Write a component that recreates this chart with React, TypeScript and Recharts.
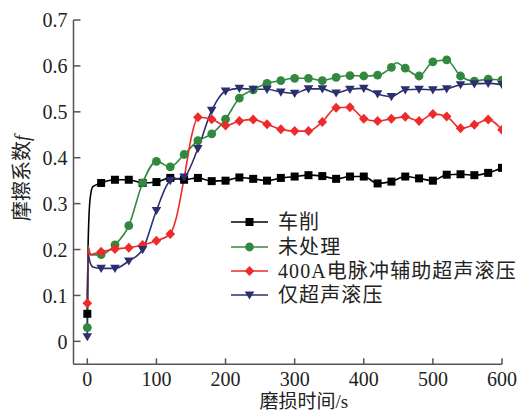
import React from "react";
import { LineChart, Line, XAxis, YAxis, Legend } from "recharts";

// marker points every 20 s
const times = [0, 20, 40, 60, 80, 100, 120, 140, 160, 180, 200, 220, 240, 260, 280, 300, 320, 340, 360, 380, 400, 420, 440, 460, 480, 500, 520, 540, 560, 580, 600];

const turned = [0.06, 0.345, 0.352, 0.352, 0.345, 0.347, 0.356, 0.352, 0.356, 0.349, 0.35, 0.357, 0.354, 0.35, 0.356, 0.359, 0.362, 0.36, 0.354, 0.359, 0.359, 0.344, 0.348, 0.359, 0.355, 0.35, 0.363, 0.364, 0.362, 0.367, 0.378];
const untreated = [0.03, 0.189, 0.21, 0.252, 0.345, 0.392, 0.38, 0.407, 0.437, 0.452, 0.484, 0.53, 0.548, 0.562, 0.568, 0.573, 0.573, 0.568, 0.575, 0.579, 0.578, 0.58, 0.597, 0.595, 0.578, 0.609, 0.613, 0.578, 0.567, 0.571, 0.569];
const pulse400A = [0.083, 0.195, 0.201, 0.204, 0.21, 0.219, 0.234, 0.355, 0.488, 0.484, 0.47, 0.48, 0.483, 0.473, 0.462, 0.458, 0.458, 0.478, 0.509, 0.51, 0.485, 0.48, 0.485, 0.489, 0.48, 0.495, 0.49, 0.464, 0.472, 0.483, 0.461];
const ultrasonic = [0.01, 0.159, 0.159, 0.175, 0.2, 0.285, 0.35, 0.358, 0.42, 0.503, 0.545, 0.551, 0.549, 0.549, 0.543, 0.54, 0.55, 0.55, 0.541, 0.549, 0.551, 0.539, 0.533, 0.548, 0.549, 0.548, 0.55, 0.559, 0.561, 0.562, 0.559];

// extra line points without markers (start-up jump, red rise, green peak)
const extraTimes = [1, 4, 8, 128, 152, 447];
const turnedExtra = [0.2, 0.31, 0.337, null, null, null];
const untreatedExtra = [0.207, 0.192, 0.188, null, null, 0.607];
const pulseExtra = [0.205, 0.188, 0.19, 0.265, 0.455, null];
const ultrasonicExtra = [0.19, 0.172, 0.162, null, null, null];

const xTicks = [0, 100, 200, 300, 400, 500, 600];
const yTicks = [0, 0.1, 0.2, 0.3, 0.4, 0.5, 0.6, 0.7];

const series = [
  { key: "turned", name: "车削", color: "#000000", shape: "square", values: turned, extra: turnedExtra, skip: [] as number[] },
  { key: "untreated", name: "未处理", color: "#33883f", shape: "circle", values: untreated, extra: untreatedExtra, skip: [] as number[] },
  { key: "pulse", name: "400A电脉冲辅助超声滚压", color: "#ee2a2a", shape: "diamond", values: pulse400A, extra: pulseExtra, skip: [140] },
  { key: "ultra", name: "仅超声滚压", color: "#2c2f6e", shape: "triangle", values: ultrasonic, extra: ultrasonicExtra, skip: [] as number[] },
];

const allTimes = [...times, ...extraTimes].sort((a, b) => a - b);
const data = allTimes.map((t) => {
  const row: Record<string, number | null> = { t };
  series.forEach((s) => {
    const i = times.indexOf(t);
    const j = extraTimes.indexOf(t);
    row[s.key] = i >= 0 ? s.values[i] : j >= 0 ? s.extra[j] : null;
  });
  return row;
});

const FONT = "'Liberation Serif', 'Times New Roman', 'Noto Sans CJK SC', serif";
const AXIS = "#555555";

function Marker({ shape, cx, cy, color }: { shape: string; cx: number; cy: number; color: string }) {
  if (shape === "square") return <rect x={cx - 4} y={cy - 4} width={8} height={8} fill={color} />;
  if (shape === "circle") return <circle cx={cx} cy={cy} r={4.4} fill={color} />;
  if (shape === "diamond")
    return <polygon points={`${cx},${cy - 5} ${cx + 4.8},${cy} ${cx},${cy + 5} ${cx - 4.8},${cy}`} fill={color} />;
  return <polygon points={`${cx - 4.8},${cy - 3.6} ${cx + 4.8},${cy - 3.6} ${cx},${cy + 4.6}`} fill={color} />;
}

function makeDot(s: (typeof series)[number]) {
  return (props: any) => {
    const { cx, cy, payload, index } = props;
    if (cx == null || cy == null || payload[s.key] == null || payload.t % 20 !== 0 || s.skip.includes(payload.t)) {
      return <g key={`d-${s.key}-${index}`} />;
    }
    return <Marker key={`d-${s.key}-${index}`} shape={s.shape} cx={cx} cy={cy} color={s.color} />;
  };
}

function YTick(props: any) {
  const { x, y, payload } = props;
  const v = payload.value;
  return (
    <g>
      <line x1={x + 6} x2={x + 13} y1={y} y2={y} stroke={AXIS} strokeWidth={1.5} />
      <text x={x} y={y} dy="0.36em" textAnchor="end" fontSize={20} fontFamily={FONT} fill="#222">
        {v === 0 ? "0" : v.toFixed(1)}
      </text>
    </g>
  );
}

function XTick(props: any) {
  const { x, y, payload } = props;
  return (
    <g>
      <line x1={x} x2={x} y1={y - 8} y2={y - 14} stroke={AXIS} strokeWidth={1.5} />
      <text x={x} y={y} dy="0.68em" textAnchor="middle" fontSize={20} fontFamily={FONT} fill="#222">
        {payload.value}
      </text>
    </g>
  );
}

function XTitle(props: any) {
  const vb = props.viewBox;
  return (
    <text x={vb.x + vb.width / 2 + 16} y={vb.y + 44} textAnchor="middle" fontSize={19} fontFamily={FONT} fill="#222">
      磨损时间/s
    </text>
  );
}

function YTitle(props: any) {
  const vb = props.viewBox;
  const cx = 22;
  const cy = vb.y + vb.height / 2 - 14;
  return (
    <text x={cx} y={cy} transform={`rotate(-90 ${cx} ${cy})`} textAnchor="middle" dominantBaseline="central" fontSize={20} fontFamily={FONT} fill="#222">
      摩擦系数<tspan fontStyle="italic">f</tspan>
    </text>
  );
}

function LegendBox() {
  return (
    <div style={{ fontFamily: FONT, fontSize: 20, color: "#222" }}>
      {series.map((s) => (
        <div key={s.key} style={{ display: "flex", alignItems: "center", height: 24.4 }}>
          <svg width={40} height={14} style={{ flex: "none" }}>
            <line x1={1} x2={38} y1={7} y2={7} stroke={s.color} strokeWidth={1.6} />
            <Marker shape={s.shape} cx={19.5} cy={7} color={s.color} />
          </svg>
          <span style={{ marginLeft: 8, whiteSpace: "nowrap", lineHeight: "24px", letterSpacing: 1.1 }}>{s.name}</span>
        </div>
      ))}
    </div>
  );
}

export default function App() {
  return (
    <div style={{ position: "absolute", left: 0, top: 0, width: 520, height: 417, background: "#fff" }}>
      <LineChart width={520} height={417} data={data} margin={{ top: 20, right: 18, bottom: 22.7, left: 13.5 }}>
        <XAxis
          dataKey="t"
          type="number"
          domain={[-20, 600]}
          ticks={xTicks}
          interval={0}
          allowDataOverflow
          height={30}
          tickSize={0}
          tickMargin={8}
          tickLine={false}
          axisLine={{ stroke: AXIS, strokeWidth: 1.5 }}
          tick={<XTick />}
          label={<XTitle />}
        />
        <YAxis
          type="number"
          domain={[-0.05, 0.7]}
          ticks={yTicks}
          interval={0}
          allowDataOverflow
          width={60}
          tickSize={0}
          tickMargin={6}
          tickLine={false}
          axisLine={{ stroke: AXIS, strokeWidth: 1.5 }}
          tick={<YTick />}
          label={<YTitle />}
        />
        <Legend
          layout="vertical"
          align="center"
          verticalAlign="middle"
          content={() => <LegendBox />}
          wrapperStyle={{ left: 230, top: 210, width: 290 }}
        />
        {series.map((s) => (
          <Line
            key={s.key}
            dataKey={s.key}
            name={s.name}
            type="monotone"
            stroke={s.color}
            strokeWidth={1.6}
            connectNulls
            dot={makeDot(s)}
            activeDot={false}
            isAnimationActive={false}
          />
        ))}
      </LineChart>
    </div>
  );
}
